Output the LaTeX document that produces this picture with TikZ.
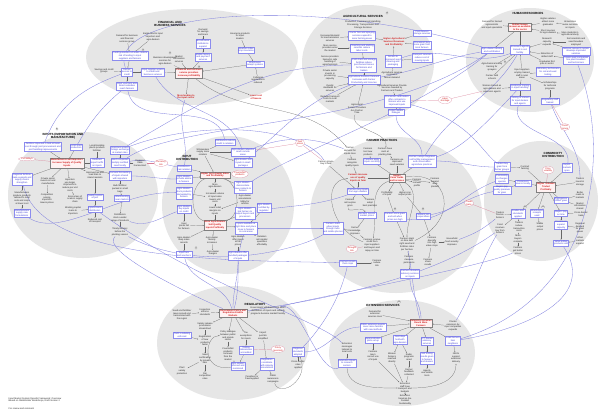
\documentclass[tikz,border=0pt]{standalone}
\usepackage{fontspec}
\setmainfont{Liberation Sans}
\usetikzlibrary{shapes.geometric,arrows.meta}

\definecolor{cloud}{HTML}{E6E6E6}
\definecolor{lnblue}{HTML}{7C7CDE}
\definecolor{bxblue}{HTML}{3C3CD4}
\definecolor{bxline}{HTML}{8C8CEE}
\definecolor{keyred}{HTML}{D01818}
\definecolor{pinkl}{HTML}{D87C96}

\pgfdeclarelayer{clouds}
\pgfdeclarelayer{links}
\pgfsetlayers{clouds,links,main}

\tikzset{
  every node/.style={font=\fontsize{2.3}{2.7}\selectfont, align=center, inner sep=0.5pt},
  bx/.style={draw=bxline, text=bxblue, fill=white, line width=0.15pt, inner sep=0.7pt},
  kx/.style={draw=black!50, text=keyred, fill=red!5, line width=0.15pt, inner sep=0.8pt, font=\fontsize{2.3}{2.7}\selectfont\bfseries},
  tx/.style={text=black!85},
  rx/.style={text=keyred, font=\fontsize{2.3}{2.7}\selectfont\bfseries},
  px/.style={ellipse, draw=pinkl, text=keyred, fill=white, line width=0.15pt, inner sep=0.2pt},
  nx/.style={ellipse, draw=black!50, fill=white, inner sep=0.3pt, line width=0.15pt, font=\fontsize{1.8}{2}\selectfont},
  title/.style={font=\fontsize{3}{3.5}\selectfont\bfseries},
  bl/.style={draw=lnblue, line width=0.3pt},
  pl/.style={draw=pinkl, line width=0.2pt},
  kl/.style={draw=black!60, line width=0.2pt, -{Stealth[length=1.1pt,width=0.9pt]}},
}

\begin{document}
\begin{tikzpicture}[x=1pt,y=-1pt]
\useasboundingbox (0,0) rectangle (600,413);

% clusters
\begin{pgfonlayer}{clouds}
\fill[white] (0,0) rectangle (600,413);
\fill[cloud] (192,57) ellipse [x radius=106pt, y radius=48pt];
\fill[cloud] (368,63) ellipse [x radius=66pt, y radius=58pt];
\fill[cloud] (530,60) ellipse [x radius=64pt, y radius=52pt];
\fill[cloud] (83,195) ellipse [x radius=75pt, y radius=63pt];
\fill[cloud] (228,205) ellipse [x radius=66pt, y radius=69pt];
\fill[cloud] (396,215) ellipse [x radius=86pt, y radius=78pt];
\fill[cloud] (541,201) ellipse [x radius=57pt, y radius=60pt];
\fill[cloud] (233,343) ellipse [x radius=76pt, y radius=57pt];
\fill[cloud] (402,353) ellipse [x radius=73pt, y radius=53pt];
\end{pgfonlayer}

% financial and business services
\node[title] (fintitle) at (170,24) {FINANCIAL AND\\BUSINESS SERVICES};
\node[tx] (fin1) at (127,39) {Demand for business\\and financial\\services grows};
\node[tx] (fin2) at (153,37) {Banks lend to input\\importers and\\agro-dealers};
\node[bx] (fin3) at (130,56) {Credit guarantee schemes reduce\\risk of lending to input\\suppliers and farmers};
\node[nx] at (143,50) {1};
\node[tx] (fin7) at (104,71) {Savings and credit\\groups};
\node[bx] (fin4) at (127,72) {Farmer\\access to\\credit};
\node[bx] (fin5) at (153,72) {Input supplier access\\to credit and\\business services};
\node[bx] (fin6) at (127,86) {Input vouchers and\\smart subsidies\\reach farmers};
\node[tx] (fin8) at (165,61) {Business development\\services for\\agro-dealers};
\node[nx] at (170,53) {2};
\node[tx] (fin9) at (179,59) {Market\\information\\services};
\node[kx] (finkey) at (189,73) {Financial and business\\service providers\\increase profitability};
\node[nx] at (199,67) {3};
\node[tx] (fin10) at (203,32) {Demand\\for savings\\and loans};
\node[bx] (fin11) at (203,44) {Microfinance\\institutions\\expand};
\node[bx] (fin12) at (203,57) {Mobile money\\and payment\\services};
\node[tx] (fin13) at (240,36) {Insurance products\\for input\\dealers};
\node[bx] (fin14) at (246,50) {Weather-index\\crop insurance};
\node[bx] (fin15) at (255,64) {Warehouse\\receipt systems};
\node[tx] (fin16) at (258,80) {Collateral\\requirements\\reduced};
\node[rx] (finr1) at (186,97) {More lending to\\the input sector};
\node[rx] (finr2) at (256,97) {Lower cost\\of finance};

% agricultural services
\node[title] (agrtitle) at (363,16) {AGRICULTURAL SERVICES};
\node[nx] at (387,13) {4};
\node[tx] (agrsub) at (363,25) {Production, Post-Harvest Handling,\\Processing, Transportation and\\Storage Services};
\node[tx] (agr1) at (330,38) {Increased demand\\for mechanization\\services};
\node[bx] (agr2) at (362,36) {Tractor hire and spraying\\services expand to\\more farming areas};
\node[rx] (agrkey) at (394,42) {Higher Agricultural\\Services Revenues\\and Profitability};
\node[bx] (agr4) at (422,33) {Post-harvest\\storage services};
\node[bx] (agr5) at (422,45) {Processors buy\\more grain from\\local farmers};
\node[bx] (agr6) at (422,58) {Transport services\\reduce cost of\\moving inputs};
\node[tx] (agr7) at (330,48) {More service\\providers enter\\the market};
\node[bx] (agr8) at (362,48) {Threshing and shelling\\services reduce\\labor costs};
\node[tx] (agr9) at (330,61) {Service providers\\trained in safe\\handling of\\agrochemicals};
\node[bx] (agr10) at (364,65) {Cold chain and storage\\facilities reduce\\post-harvest losses\\for farmers and\\traders};
\node[bx] (agr11) at (393,61) {Access to\\improved seed\\cleaning and\\packaging};
\node[tx] (agr12) at (330,75) {Private sector\\invests in\\processing\\capacity};
\node[bx] (agr15) at (364,80) {Agricultural Services Demand\\Increases with Farmer\\Productivity and Incomes};
\node[tx] (agr16) at (392,75) {Agricultural services\\respond to\\farmer demand};
\node[tx] (agr13) at (330,88) {Quality\\standards for\\services};
\node[tx] (agr17) at (392,88) {Agricultural Services Provide\\Services Needed by\\Farmers and Traders};
\node[tx] (agr14) at (330,99) {Reduced transport\\costs to rural\\markets};
\node[bx] (agr18) at (397,101) {Processors and traders\\offer contracts to\\farmers who use\\improved inputs};
\node[tx] (agr19) at (357,109) {Agricultural\\Service Providers\\Are Paid on\\Time};
\node[bx] (agr20) at (396,112) {Output market\\linkages};

% human resources
\node[title] (hrtitle) at (528,13) {HUMAN RESOURCES};
\node[tx] (hr1) at (492,25) {Demand for trained\\agronomists\\and input specialists};
\node[kx] (hrkey) at (520,27) {Skilled human\\resources available\\to the sector};
\node[tx] (hr3) at (548,22) {Higher salaries\\attract more\\graduates};
\node[tx] (hr4) at (570,25) {Universities\\revise curricula\\on inputs};
\node[tx] (hr5) at (548,32) {Short courses\\for agro-dealers};
\node[tx] (hr6) at (570,34) {More students in\\agricultural study};
\node[bx] (hr7) at (492,50) {Agro-dealer training\\and certification};
\node[bx] (hr8) at (520,50) {Extension agents\\trained in soil\\fertility};
\node[tx] (hr9) at (547,42) {Research\\capacity\\expands};
\node[tx] (hr10) at (576,42) {Soil scientists and\\seed breeders\\employed};
\node[bx] (hr11) at (576,51) {National research system\\develops improved\\varieties};
\node[tx] (hr12) at (547,55) {Retention of\\skilled staff};
\node[bx] (hr13) at (576,60) {Private seed companies\\hire plant breeders\\and technicians};
\node[tx] (hr14) at (547,63) {Graduates find\\jobs in sector};
\node[tx] (hr15) at (492,67) {Agrochemical safety\\training for\\sprayers};
\node[nx] at (505,62) {5};
\node[tx] (hr16) at (492,77) {Farmer field\\schools};
\node[tx] (hr17) at (522,74) {Input suppliers\\employ trained\\staff in rural\\areas};
\node[bx] (hr18) at (548,72) {Laboratory technicians\\for soil and seed\\testing};
\node[tx] (hr19) at (492,89) {Women trained as\\agro-dealers and\\extension agents};
\node[bx] (hr20) at (520,87) {Vocational training\\in input handling};
\node[tx] (hr21) at (550,86) {Scholarships\\for technical\\programs};
\node[bx] (hr22) at (520,101) {Training of trainers\\for input dealers\\and agents};
\node[bx] (hr23) at (550,101) {Regulatory staff\\trained};

% inputs (importation and manufacture)
\node[title] (imptitle) at (63,136) {INPUTS (IMPORTATION AND\\MANUFACTURE)};
\node[nx] at (57,129) {6};
\node[bx] (imp1) at (43,147) {Fertilizer imported in bulk at lower\\cost through joint procurement and\\port handling improvements};
\node[bx] (imp2) at (76,147) {Local seed\\production};
\node[tx] (imp3) at (97,148) {Local blending\\plants produce\\fertilizer};
\node[bx] (imp4) at (120,150) {Importers access\\foreign exchange\\at market rates};
\node[px] (pk1) at (27,159) {Port delays};
\node[kx] (impkey) at (67,163) {Manufacturers and Importers\\Increase Supply of Quality\\Inputs};
\node[bx] (imp7) at (97,163) {Reduced\\import tariffs\\on inputs};
\node[bx] (imp8) at (120,163) {Seed companies\\multiply certified\\seed locally};
\node[tx] (imp9) at (140,163) {Regional\\trade\\harmonized};
\node[px] (pk2) at (161,163) {Currency\\risk};
\node[bx] (imp11) at (22,179) {Regional fertilizer\\trade expands and\\supply chains\\strengthen};
\node[tx] (imp12) at (48,181) {Private sector\\invests in local\\manufacture};
\node[tx] (imp13) at (70,185) {Importers\\use larger\\shipments to\\reduce per unit\\costs};
\node[tx] (imp14) at (95,175) {Improved rail and\\road links to\\inland markets};
\node[bx] (imp15) at (120,176) {Demand forecasting\\of inputs shared\\with importers};
\node[tx] (imp16) at (22,198) {Manufacturers\\produce products\\tailored to local\\soils and crops\\at lower cost};
\node[tx] (imp17) at (47,199) {Competition\\among\\importers\\lowers prices};
\node[tx] (imp18) at (75,199) {Economies of\\scale in supply\\chain};
\node[tx] (imp19) at (120,189) {Bulk fertilizer\\packed in small\\bags};
\node[bx] (imp20) at (95,197) {Quality control\\at port};
\node[bx] (imp21) at (122,198) {Warehousing\\near markets};
\node[bx] (imp22) at (22,213) {Manufacturers\\supply new\\formulations};
\node[tx] (imp23) at (73,211) {Working capital\\loans to\\importers};
\node[bx] (imp24) at (95,209) {Inputs reach\\distributors};
\node[tx] (imp25) at (95,221) {Reduced cost\\of transport};
\node[tx] (imp26) at (120,218) {Distributors\\stock a wider\\range of products};
\node[tx] (imp27) at (120,232) {Timely delivery\\before the\\planting season};

% input distribution
\node[title] (distitle) at (187,158) {INPUT\\DISTRIBUTION};
\node[tx] (dis1) at (203,152) {Wholesalers\\supply more\\retailers};
\node[bx] (dis2) at (225,142) {Distributors extend\\credit to retailers};
\node[bx] (dis3) at (243,152) {Agro-dealer networks\\reach remote\\areas};
\node[bx] (dis4) at (243,163) {Agro-dealers sell\\inputs in small\\packages};
\node[bx] (dis6) at (184,168) {Distributors\\train retailers};
\node[kx] (diskey) at (215,175) {Higher Agro-Dealer Sales\\and Profitability};
\node[px] (pk3) at (240,174) {Counterfeit\\products};
\node[bx] (dis9) at (184,179) {Agro-dealers\\provide advice\\to farmers};
\node[tx] (dis10) at (215,186) {More\\agro-dealers};
\node[bx] (dis11) at (243,187) {Agro-dealers\\demonstrate\\new products to\\farmers};
\node[bx] (dis12) at (184,193) {Agro-dealers\\stock products\\demanded by\\farmers};
\node[tx] (dis13) at (215,198) {Increased volume\\of input sales\\lowers unit\\costs};
\node[tx] (dis14) at (245,200) {Agro-dealer\\associations\\lobby for\\reforms};
\node[tx] (dis15) at (215,211) {Lower retail\\margins on\\inputs};
\node[bx] (dis16) at (184,209) {Agro-dealers\\buy inputs\\on credit};
\node[bx] (dis17) at (245,213) {Agro-dealers\\link farmers to\\output buyers and\\processors};
\node[bx] (dis18) at (264,208) {Agro-dealers\\certified by\\regulator};
\node[tx] (dis19) at (184,226) {Input\\prices fall\\for farmers};
\node[kx] (diskey2) at (215,225) {More Agro-Dealers\\Sell Quality\\Inputs Profitably};
\node[bx] (dis21) at (246,228) {Inputs available at\\right time and place\\close to farmers\\in rural areas};
\node[tx] (dis22) at (184,240) {Agro-dealers\\keep sales\\records};
\node[tx] (dis23) at (212,240) {Agro-dealer\\density\\increases};
\node[tx] (dis24) at (238,241) {Agro-dealers\\offer inputs\\at fair\\prices};
\node[tx] (dis25) at (262,241) {Retailers\\sell smaller\\quantities\\affordably};
\node[bx] (dis26) at (184,254) {Input fairs\\and vouchers};
\node[nx] at (196,248) {7};
\node[tx] (dis27) at (213,253) {Agro-dealer\\margins};
\node[bx] (dis28) at (238,256) {Agro-dealers offer\\bundled packages\\of inputs};

% farmer practices
\node[title] (fartitle) at (382,140) {FARMER PRACTICES};
\node[tx] (far1) at (350,151) {Farmer\\demand for\\inputs rises};
\node[tx] (far2) at (368,152) {Farmers\\test new\\products};
\node[tx] (far3) at (385,152) {Farmers have\\cash at\\planting time};
\node[tx] (far4) at (326,163) {Farmer groups\\buy in bulk};
\node[tx] (far5) at (352,163) {Farmers\\recognize\\quality inputs};
\node[bx] (far6) at (372,161) {Farmers apply\\inputs correctly};
\node[tx] (far7) at (397,162) {Farmers use\\improved\\seed varieties};
\node[bx] (far8) at (422,161) {Farmers adopt integrated\\soil fertility management\\and conservation\\agriculture practices};
\node[kx] (farkey) at (397,178) {Higher\\Farm Yields\\and Incomes};
\node[rx] (farr) at (358,178) {Farmers increase\\use of quality\\inputs on farm};
\node[bx] (far11) at (358,191) {Farmers buy inputs\\from agro-dealers};
\node[tx] (far12) at (417,183) {Farmers\\reinvest\\profits};
\node[tx] (far13) at (435,183) {Farmers\\expand\\area\\planted};
\node[tx] (far14) at (350,203) {Farmers\\sell surplus\\grain};
\node[tx] (far15) at (370,203) {Farmers\\adopt\\best practices};
\node[tx] (far16) at (387,194) {Profitability\\of inputs};
\node[tx] (far17) at (405,194) {Higher crop\\output prices};
\node[bx] (far18) at (367,215) {Farmers access\\market prices};
\node[nx] at (395,209) {8};
\node[bx] (far19) at (395,217) {Farmers store grain\\and sell when\\prices are high};
\node[nx] at (423,209) {9};
\node[bx] (far20) at (423,216) {Farmers join\\cooperatives};
\node[bx] (far21) at (333,228) {Farmers learn\\about inputs\\through radio\\and mobile phones};
\node[tx] (far22) at (355,231) {Farmer\\knowledge\\improves};
\node[tx] (far23) at (372,245) {Farmers receive\\credit from\\input suppliers\\and buyers and\\repay on time};
\node[tx] (far24) at (407,244) {Farmers plant\\on time with\\right seed and\\fertilizer rates\\per hectare};
\node[tx] (far25) at (432,242) {Farmers\\diversify\\into high\\value crops};
\node[tx] (far26) at (452,242) {Household\\food security\\improves};
\node[px] (pk5) at (352,249) {Drought\\risk};
\node[bx] (far27) at (348,263) {Farmers insure\\their crops};
\node[tx] (far28) at (377,263) {Farmers\\reduce\\risk};
\node[tx] (far29) at (409,260) {Farmers\\measure\\yield gains};
\node[tx] (far30) at (428,262) {Farmers\\share\\results};
\node[bx] (far31) at (410,274) {Farmers demand\\advisory services\\on inputs};

% commodity distribution
\node[title] (comtitle) at (553,155) {COMMODITY\\DISTRIBUTION};
\node[bx] (com1) at (502,167) {Traders buy\\grain from\\farmer groups};
\node[bx] (com2) at (502,179) {Commodity\\exchanges\\operate};
\node[bx] (com3) at (502,190) {Buyers pay\\quality premium\\for grain};
\node[tx] (com4) at (525,168) {Contract\\farming};
\node[px] (pk10) at (548,170) {Price\\volatility};
\node[bx] (com6) at (567,168) {Export\\markets\\open};
\node[bx] (com7) at (523,183) {Processors\\source locally};
\node[kx] (comkey) at (546,187) {Higher Volumes\\Traded\\Profitably};
\node[tx] (com9) at (580,182) {Traders\\invest in\\storage};
\node[tx] (com10) at (580,195) {Better\\roads to\\markets};
\node[bx] (com11) at (561,200) {Aggregators\\collect grain};
\node[tx] (com12) at (580,206) {Market\\information\\shared};
\node[px] (pk6) at (469,203) {Trade\\bans};
\node[tx] (com14) at (500,215) {Traders\\finance\\farmers};
\node[nx] at (525,207) {11};
\node[bx] (com15) at (518,214) {Grades and\\standards\\applied};
\node[nx] at (543,207) {12};
\node[bx] (com16) at (537,213) {Warehouse\\receipts\\used};
\node[bx] (com17) at (561,213) {Buyers pay\\on time};
\node[tx] (com18) at (581,214) {Cross-border\\trade};
\node[tx] (com19) at (500,229) {Food\\reserves\\buy from\\farmers};
\node[tx] (com20) at (519,227) {Traders\\reduce\\transaction\\costs};
\node[tx] (com21) at (540,227) {Stable\\output\\prices};
\node[bx] (com22) at (561,225) {Processors\\expand\\capacity};
\node[tx] (com23) at (580,228) {Regional\\demand\\for grain\\grows};
\node[tx] (com24) at (518,239) {More\\buyers\\compete};
\node[tx] (com25) at (518,251) {Farmers\\get better\\prices};
\node[bx] (com26) at (561,243) {Value added\\products sold};
\node[tx] (com27) at (580,241) {Urban\\markets\\expand};

% regulatory
\node[title] (regtitle) at (255,304) {REGULATORY};
\node[kx] (regkey) at (233,313) {Government Policy and\\Regulation Enable\\Markets};
\node[tx] (reg2) at (182,315) {Seed and fertilizer\\laws revised and\\harmonized with\\the region};
\node[tx] (reg3) at (205,312) {Inspectors\\enforce\\standards};
\node[tx] (reg4) at (268,311) {Government withdraws from direct\\distribution of inputs and subsidy\\programs become market friendly};
\node[tx] (reg5) at (205,326) {Variety release\\procedures\\streamlined};
\node[bx] (reg6) at (182,335) {Truth in labeling\\enforced};
\node[tx] (reg7) at (205,341) {Registration\\of new\\products\\faster};
\node[tx] (reg8) at (228,336) {Policy dialogue\\between public\\and private\\sector};
\node[tx] (reg9) at (246,336) {Tax\\exemptions\\for inputs};
\node[tx] (reg10) at (263,336) {Import\\permits\\simplified};
\node[tx] (reg11) at (228,354) {Counterfeit\\products\\removed\\from the\\market};
\node[bx] (reg12) at (246,350) {Testing\\laboratories\\accredited};
\node[px] (pk9) at (278,349) {Policy\\reversals};
\node[bx] (reg14) at (298,352) {Regional\\standards\\adopted};
\node[tx] (reg15) at (205,359) {Seed\\certification\\by private\\labs};
\node[bx] (reg16) at (238,366) {Agro-dealers\\licensed and\\monitored};
\node[bx] (reg17) at (267,364) {Regulators\\coordinate\\with industry\\associations};
\node[tx] (reg18) at (298,365) {Cross-border\\rules\\applied};
\node[tx] (reg19) at (182,371) {Plant\\variety\\protection};
\node[tx] (reg20) at (205,376) {Fair\\competition\\rules};
\node[tx] (reg21) at (252,378) {Penalties for\\fraud applied};
\node[tx] (reg22) at (273,379) {Public\\awareness\\campaigns};

% extension services
\node[title] (exttitle) at (383,305) {EXTENSION SERVICES};
\node[nx] at (399,302) {10};
\node[tx] (ext1) at (375,314) {Demand for\\extension\\services rises};
\node[kx] (extkey) at (421,323) {Extension Services\\Reach More\\Farmers};
\node[bx] (ext3) at (373,327) {Public extension agents\\cover more farmers\\with new methods};
\node[tx] (ext4) at (453,326) {Private\\extension by\\input companies\\expands};
\node[bx] (ext5) at (373,340) {Demonstration\\plots set up};
\node[bx] (ext6) at (400,340) {Field days\\held with\\agro-dealers};
\node[bx] (ext7) at (427,341) {ICT-based\\advisory\\services};
\node[bx] (ext8) at (453,341) {Lead farmers\\train\\neighbors};
\node[tx] (ext9) at (347,348) {Extension\\messages\\tailored to\\local soils};
\node[tx] (ext10) at (373,356) {Farmers\\learn\\correct use\\of inputs};
\node[tx] (ext11) at (392,358) {Women\\farmers\\reached\\directly};
\node[tx] (ext12) at (409,357) {Radio\\programs\\aired};
\node[bx] (ext13) at (427,358) {Soil testing\\results given\\to farmers\\and dealers};
\node[tx] (ext14) at (456,358) {NGOs\\support\\extension\\delivery};
\node[bx] (ext15) at (347,363) {Extension linked\\to research\\centers};
\node[tx] (ext16) at (409,372) {Farmer\\feedback\\collected};
\node[tx] (ext17) at (427,373) {Agents\\use mobile\\tools};
\node[tx] (ext18) at (405,388) {Extension\\staff have\\transport and\\budgets};
\node[tx] (ext19) at (405,400) {Extension\\Services Are\\Funded\\Sustainably};

% other risks
\node[px] (pk4) at (300,143) {Fuel\\prices};
\node[px] (pk7) at (445,100) {Labor\\shortage};
\node[px] (pk8) at (565,127) {Land\\tenure};

% note
\node[tx, anchor=west, align=left] (note) at (8,400) {Input Market System Results Framework: Overview\\Based on Stakeholder Workshops, Draft Version 2};
\node[tx, anchor=west, align=left] (date) at (8,409) {For review and comment};

\begin{pgfonlayer}{links}
% inside clusters
\draw[kl] (fin1) -- (fin3);
\draw[kl] (fin2) -- (fin3);
\draw[kl] (fin3) -- (fin4);
\draw[kl] (fin7) -- (fin4);
\draw[kl] (fin4) -- (fin6);
\draw[kl] (fin4) -- (fin5);
\draw[kl] (fin5) -- (finkey);
\draw[kl] (fin8) -- (finkey);
\draw[kl] (fin9) -- (finkey);
\draw[kl] (fin10) -- (fin11);
\draw[kl] (fin11) -- (fin12);
\draw[kl] (fin12) -- (finkey);
\draw[kl] (fin13) -- (fin14);
\draw[kl] (fin14) -- (fin15);
\draw[kl] (fin15) -- (finkey);
\draw[kl] (fin16) -- (fin15);
\draw[kl] (finkey) -- (finr1);
\draw[kl] (finkey) -- (finr2);

\draw[kl] (agr1) -- (agr2);
\draw[kl] (agr7) -- (agr8);
\draw[kl] (agr2) -- (agrkey);
\draw[kl] (agr4) -- (agrkey);
\draw[kl] (agr5) -- (agrkey);
\draw[kl] (agr11) -- (agrkey);
\draw[kl] (agr6) -- (agr11);
\draw[kl] (agr8) -- (agr10);
\draw[kl] (agr9) -- (agr10);
\draw[kl] (agr10) -- (agr15);
\draw[kl] (agr12) -- (agr15);
\draw[kl] (agr13) -- (agr15);
\draw[kl] (agr14) -- (agr15);
\draw[kl] (agr16) -- (agr11);
\draw[kl] (agr15) -- (agr17);
\draw[kl] (agr17) -- (agr18);
\draw[kl] (agr18) -- (agr20);
\draw[kl] (agr19) -- (agr15);

\draw[kl] (hr1) -- (hrkey);
\draw[kl] (hr3) -- (hrkey);
\draw[kl] (hr4) -- (hr3);
\draw[kl] (hr5) -- (hrkey);
\draw[kl] (hr6) -- (hr5);
\draw[kl] (hrkey) -- (hr7);
\draw[kl] (hrkey) -- (hr8);
\draw[kl] (hr9) -- (hr8);
\draw[kl] (hr10) -- (hr9);
\draw[kl] (hr11) -- (hr9);
\draw[kl] (hr12) -- (hr8);
\draw[kl] (hr13) -- (hr12);
\draw[kl] (hr14) -- (hr8);
\draw[kl] (hr15) -- (hr8);
\draw[kl] (hr16) -- (hr8);
\draw[kl] (hr17) -- (hr8);
\draw[kl] (hr18) -- (hr17);
\draw[kl] (hr19) -- (hr20);
\draw[kl] (hr17) -- (hr20);
\draw[kl] (hr20) -- (hr22);
\draw[kl] (hr21) -- (hr23);
\draw[kl] (hr17) -- (hr21);

\draw[kl] (imp1) -- (impkey);
\draw[kl] (imp2) -- (impkey);
\draw[kl] (imp3) -- (imp7);
\draw[kl] (imp4) -- (imp8);
\draw[pl] (pk1) -- (impkey);
\draw[kl] (imp7) -- (impkey);
\draw[kl] (imp9) -- (imp8);
\draw[pl] (pk2) -- (imp9);
\draw[kl] (impkey) -- (imp11);
\draw[kl] (impkey) -- (imp12);
\draw[kl] (impkey) -- (imp13);
\draw[kl] (impkey) -- (imp14);
\draw[kl] (impkey) -- (imp15);
\draw[kl] (imp11) -- (imp16);
\draw[kl] (imp16) -- (imp22);
\draw[kl] (imp12) -- (imp17);
\draw[kl] (imp13) -- (imp18);
\draw[kl] (imp15) -- (imp19);
\draw[kl] (imp19) -- (imp21);
\draw[kl] (imp14) -- (imp20);
\draw[kl] (imp20) -- (imp24);
\draw[kl] (imp24) -- (imp25);
\draw[kl] (imp21) -- (imp26);
\draw[kl] (imp26) -- (imp27);
\draw[kl] (imp23) -- (imp24);

\draw[kl] (dis1) -- (dis2);
\draw[kl] (dis1) -- (dis3);
\draw[kl] (dis1) -- (dis4);
\draw[kl] (dis1) -- (diskey);
\draw[kl] (dis6) -- (diskey);
\draw[pl] (pk3) -- (diskey);
\draw[kl] (dis9) -- (diskey);
\draw[kl] (diskey) -- (dis10);
\draw[kl] (dis11) -- (diskey);
\draw[kl] (dis12) -- (dis13);
\draw[kl] (dis10) -- (dis13);
\draw[kl] (dis13) -- (dis15);
\draw[kl] (dis14) -- (dis15);
\draw[kl] (dis16) -- (dis19);
\draw[kl] (dis15) -- (diskey2);
\draw[kl] (dis17) -- (diskey2);
\draw[kl] (dis18) -- (dis21);
\draw[kl] (diskey2) -- (dis21);
\draw[kl] (dis19) -- (diskey2);
\draw[kl] (diskey2) -- (dis22);
\draw[kl] (diskey2) -- (dis23);
\draw[kl] (dis21) -- (dis24);
\draw[kl] (dis21) -- (dis25);
\draw[kl] (dis22) -- (dis26);
\draw[kl] (dis23) -- (dis27);
\draw[kl] (dis24) -- (dis28);
\draw[kl] (diskey2) to[out=160,in=200] (diskey);
\draw[kl] (diskey) to[out=-20,in=20] (diskey2);

\draw[kl] (far1) -- (far5);
\draw[kl] (far2) -- (far6);
\draw[kl] (far3) -- (far7);
\draw[kl] (far4) -- (far11);
\draw[kl] (far5) -- (farr);
\draw[kl] (far6) -- (farkey);
\draw[kl] (far7) -- (farkey);
\draw[kl] (far8) -- (farkey);
\draw[kl] (farr) -- (farkey);
\draw[kl] (farr) -- (far11);
\draw[kl] (farkey) -- (far12);
\draw[kl] (farkey) -- (far13);
\draw[kl] (farkey) -- (far16);
\draw[kl] (farkey) -- (far17);
\draw[kl] (far11) -- (far14);
\draw[kl] (far11) -- (far15);
\draw[kl] (far16) -- (far19);
\draw[kl] (far17) -- (far20);
\draw[kl] (far18) -- (far22);
\draw[kl] (far21) -- (far22);
\draw[kl] (far22) -- (far23);
\draw[kl] (far19) -- (far24);
\draw[kl] (far20) -- (far25);
\draw[kl] (far25) -- (far26);
\draw[pl] (pk5) -- (far23);
\draw[kl] (far27) -- (far28);
\draw[kl] (far24) -- (far29);
\draw[kl] (far25) -- (far30);
\draw[kl] (far29) -- (far31);
\draw[kl] (farkey) to[out=200,in=80] (far23);
\draw[kl] (farkey) to[out=-30,in=90] (far24);
\draw[kl] (far23) .. controls (330,230) and (320,180) .. (farr);
\draw[kl] (far24) .. controls (460,220) and (450,170) .. (farkey);
\draw[kl] (far14) to[out=250,in=120] (far18);

\draw[kl] (com1) -- (com4);
\draw[kl] (com2) -- (com7);
\draw[kl] (com3) -- (com7);
\draw[kl] (com4) -- (comkey);
\draw[pl] (pk10) -- (comkey);
\draw[kl] (com6) -- (comkey);
\draw[kl] (com7) -- (comkey);
\draw[kl] (com9) -- (comkey);
\draw[kl] (com10) -- (com11);
\draw[kl] (com11) -- (comkey);
\draw[kl] (com12) -- (com11);
\draw[pl] (pk6) -- (com14);
\draw[kl] (com14) -- (com15);
\draw[kl] (comkey) -- (com15);
\draw[kl] (comkey) -- (com16);
\draw[kl] (comkey) -- (com17);
\draw[kl] (com18) -- (com17);
\draw[kl] (com15) -- (com19);
\draw[kl] (com15) -- (com20);
\draw[kl] (com16) -- (com21);
\draw[kl] (com17) -- (com22);
\draw[kl] (com23) -- (com22);
\draw[kl] (com20) -- (com24);
\draw[kl] (com24) -- (com25);
\draw[kl] (com22) -- (com26);
\draw[kl] (com27) -- (com26);

\draw[kl] (reg2) -- (reg3);
\draw[kl] (reg3) -- (regkey);
\draw[kl] (reg4) -- (regkey);
\draw[kl] (regkey) -- (reg5);
\draw[kl] (reg5) -- (reg7);
\draw[kl] (reg6) -- (reg7);
\draw[kl] (regkey) -- (reg8);
\draw[kl] (regkey) -- (reg9);
\draw[kl] (regkey) -- (reg10);
\draw[kl] (reg8) -- (reg11);
\draw[kl] (reg9) -- (reg12);
\draw[pl] (pk9) -- (reg12);
\draw[kl] (reg7) -- (reg15);
\draw[kl] (reg15) -- (reg19);
\draw[kl] (reg15) -- (reg20);
\draw[kl] (reg11) -- (reg16);
\draw[kl] (reg12) -- (reg16);
\draw[kl] (reg10) -- (reg17);
\draw[kl] (reg17) -- (reg21);
\draw[kl] (reg17) -- (reg22);
\draw[kl] (reg18) -- (reg14);
\draw[kl] (reg16) .. controls (200,372) and (205,335) .. (reg8);
\draw[kl] (reg22) .. controls (280,398) and (310,380) .. (reg14);

\draw[kl] (ext1) -- (extkey);
\draw[kl] (ext3) -- (extkey);
\draw[kl] (ext4) -- (extkey);
\draw[kl] (extkey) -- (ext5);
\draw[kl] (extkey) -- (ext6);
\draw[kl] (extkey) -- (ext7);
\draw[kl] (extkey) -- (ext8);
\draw[kl] (ext9) -- (ext15);
\draw[kl] (ext5) -- (ext10);
\draw[kl] (ext6) -- (ext11);
\draw[kl] (ext6) -- (ext12);
\draw[kl] (ext7) -- (ext13);
\draw[kl] (ext8) -- (ext14);
\draw[kl] (ext13) -- (ext17);
\draw[kl] (ext12) -- (ext16);
\draw[kl] (ext10) -- (ext18);
\draw[kl] (ext11) -- (ext18);
\draw[kl] (ext16) -- (ext18);
\draw[kl] (ext18) -- (ext19);
\draw[kl] (ext18) to[out=0,in=270] (ext14);
\draw[kl] (ext15) to[out=270,in=180] (ext18);

% between clusters
\draw[bl] (fin4) .. controls (105,15) and (300,-8) .. (hr7);
\draw[bl] (fin4) to[out=200,in=70] (imp1);
\draw[bl] (fin6) to[out=220,in=60] (imp2);
\draw[bl] (fin6) to[out=280,in=100] (dis2);
\draw[bl] (finr1) to[out=250,in=80] (dis6);
\draw[bl] (fin5) to[out=300,in=110] (dis3);
\draw[kl] (finkey) to[out=-40,in=130] (far1);
\draw[kl] (agr19) to[out=250,in=80] (far3);
\draw[bl] (agr15) to[out=200,in=40] (dis4);
\draw[bl] (agr20) to[out=270,in=90] (far8);
\draw[bl] (agr10) to[out=180,in=30] (imp4);
\draw[bl] (hr8) to[out=200,in=20] (agr11);
\draw[bl] (hr7) to[out=190,in=10] (agr15);
\draw[bl] (hr7) .. controls (420,110) and (300,150) .. (dis11);
\draw[bl] (hr8) to[out=240,in=60] (far8);
\draw[bl] (hr22) to[out=250,in=80] (com6);
\draw[bl] (hr23) to[out=290,in=90] (com9);
\draw[bl] (hr13) .. controls (615,160) and (590,300) .. (ext8);
\draw[bl] (hr7) .. controls (380,130) and (180,120) .. (imp8);
\draw[bl] (imp11) .. controls (40,265) and (250,260) .. (far27);
\draw[bl] (imp15) to[out=0,in=180] (dis9);
\draw[bl] (imp8) to[out=10,in=170] (dis6);
\draw[bl] (imp26) to[out=-20,in=200] (dis16);
\draw[bl] (imp27) .. controls (200,275) and (300,250) .. (far21);
\draw[bl] (imp4) .. controls (200,120) and (300,125) .. (far4);
\draw[bl] (imp24) .. controls (200,285) and (320,320) .. (ext9);
\draw[bl] (dis21) to[out=0,in=180] (far21);
\draw[bl] (dis17) to[out=10,in=200] (far11);
\draw[bl] (dis3) to[out=20,in=160] (far1);
\draw[bl] (dis12) .. controls (120,190) and (60,240) .. (imp22);
\draw[bl] (far8) to[out=0,in=180] (com1);
\draw[bl] (far19) to[out=-10,in=200] (com2);
\draw[bl] (far20) to[out=10,in=190] (com3);
\draw[bl] (far26) to[out=20,in=220] (com14);
\draw[bl] (agr18) .. controls (470,120) and (480,150) .. (com1);
\draw[bl] (hr20) .. controls (480,130) and (460,150) .. (far8);
\draw[bl] (regkey) to[out=90,in=270] (dis28);
\draw[bl] (regkey) to[out=75,in=250] (dis21);
\draw[bl] (regkey) to[out=105,in=280] (dis26);
\draw[bl] (regkey) .. controls (320,300) and (430,280) .. (com19);
\draw[bl] (reg4) .. controls (300,300) and (470,270) .. (com25);
\draw[bl] (regkey) .. controls (180,290) and (100,250) .. (imp27);
\draw[bl] (reg14) .. controls (320,330) and (340,300) .. (far27);
\draw[bl] (extkey) to[out=90,in=270] (far31);
\draw[bl] (extkey) to[out=105,in=280] (far24);
\draw[bl] (ext4) to[out=60,in=240] (com19);
\draw[bl] (ext3) to[out=180,in=0] (reg14);
\draw[bl] (com26) .. controls (600,300) and (520,330) .. (ext8);
\draw[bl] (ext15) .. controls (320,380) and (300,300) .. (reg4);
\draw[pl] (pk4) -- (dis3);
\draw[pl] (pk4) -- (far4);
\draw[pl] (pk7) -- (agr18);
\draw[pl] (pk7) -- (hr19);
\draw[pl] (pk8) -- (hr23);
\end{pgfonlayer}
\end{tikzpicture}
\end{document}
